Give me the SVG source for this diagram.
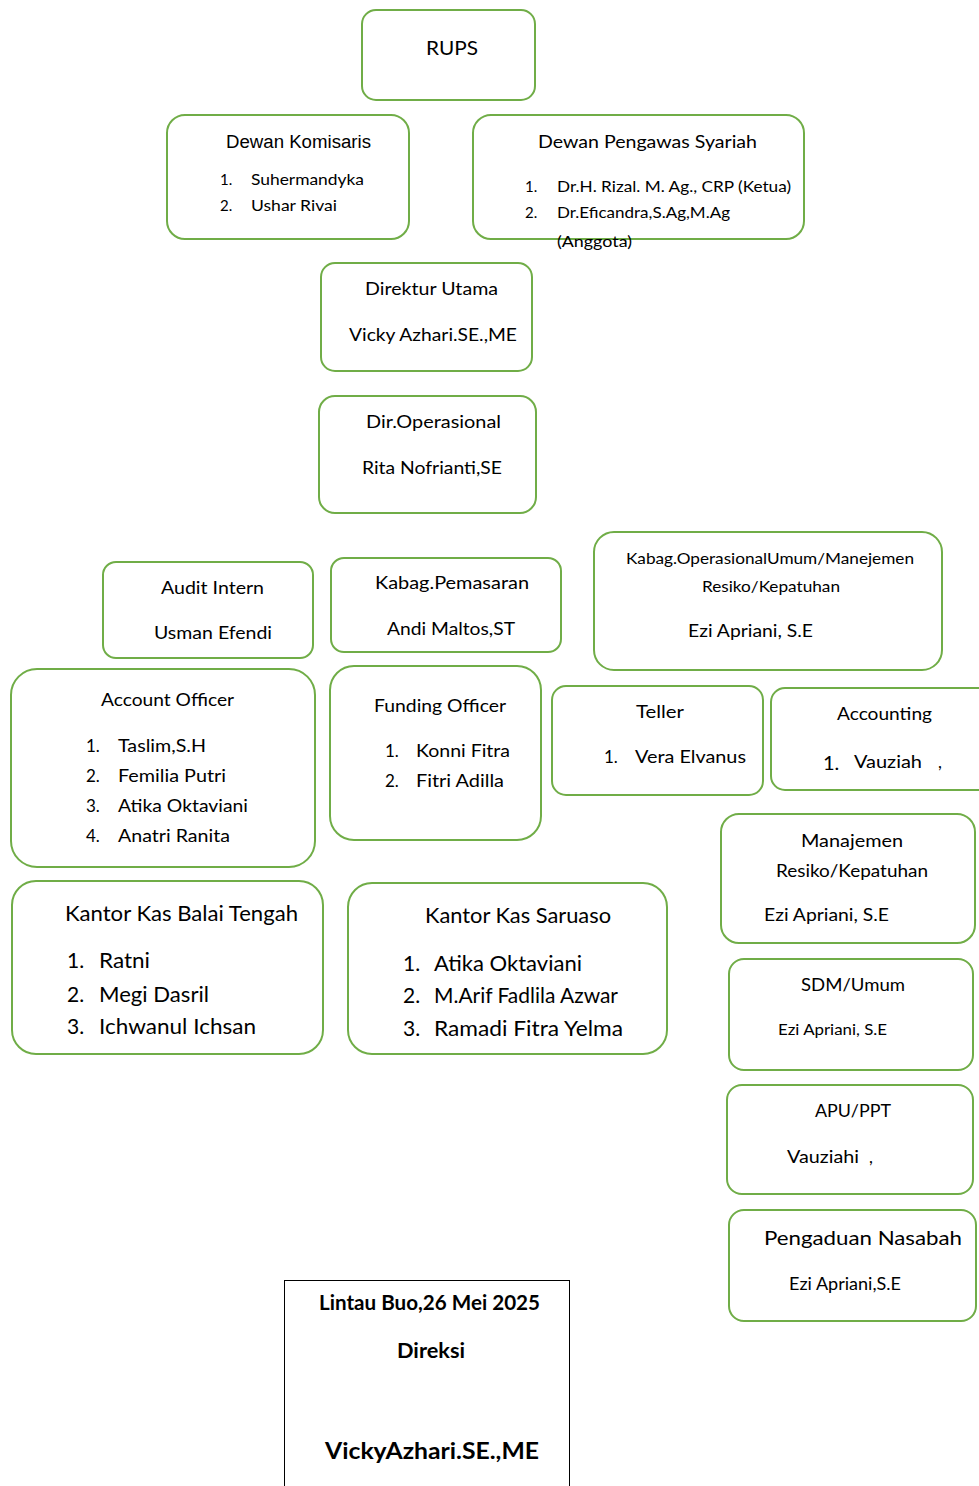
<svg xmlns="http://www.w3.org/2000/svg" width="979" height="1486" viewBox="0 0 979 1486">
<style>
.box{fill:#fff;stroke:#70ad47;stroke-width:2}
.sig{fill:#fff;stroke:#000;stroke-width:1}
text{font-family:Lato,"Open Sans",sans-serif;fill:#000}
.c{text-anchor:middle}
.a{font-family:"Liberation Sans",Arial,sans-serif}
.b{font-weight:bold}
</style>
<rect width="979" height="1486" fill="#fff"/>
<g id="connectors"></g>

<g id="rups">
<rect class="box" x="362" y="10" width="173" height="90" rx="14"/>
<text class="c" x="452" y="55" font-size="20" textLength="52" lengthAdjust="spacingAndGlyphs">RUPS</text>
</g>

<g id="dewan-komisaris">
<rect class="box" x="167" y="115" width="242" height="124" rx="18"/>
<text class="a" x="226" y="148" font-size="18" textLength="145" lengthAdjust="spacingAndGlyphs">Dewan Komisaris</text>
<text x="220" y="185" font-size="15">1.</text>
<text x="251" y="185" font-size="15" textLength="113" lengthAdjust="spacingAndGlyphs">Suhermandyka</text>
<text x="220" y="211" font-size="15">2.</text>
<text x="251" y="211" font-size="15" textLength="86" lengthAdjust="spacingAndGlyphs">Ushar Rivai</text>
</g>

<g id="dewan-pengawas-syariah">
<rect class="box" x="473" y="115" width="331" height="124" rx="18"/>
<text x="538" y="148" font-size="18" textLength="219" lengthAdjust="spacingAndGlyphs">Dewan Pengawas Syariah</text>
<text x="525" y="192" font-size="15">1.</text>
<text x="557" y="192" font-size="15" textLength="234" lengthAdjust="spacingAndGlyphs">Dr.H. Rizal. M. Ag., CRP (Ketua)</text>
<text x="525" y="218" font-size="15">2.</text>
<text x="557" y="218" font-size="15" textLength="173" lengthAdjust="spacingAndGlyphs">Dr.Eficandra,S.Ag,M.Ag</text>
<text x="557" y="247" font-size="15" textLength="75" lengthAdjust="spacingAndGlyphs">(Anggota)</text>
</g>

<g id="direktur-utama">
<rect class="box" x="321" y="263" width="211" height="108" rx="14"/>
<text x="365" y="295" font-size="17" textLength="133" lengthAdjust="spacingAndGlyphs">Direktur Utama</text>
<text x="349" y="341" font-size="17" textLength="168" lengthAdjust="spacingAndGlyphs">Vicky Azhari.SE.,ME</text>
</g>

<g id="dir-operasional">
<rect class="box" x="319" y="396" width="217" height="117" rx="16"/>
<text x="366" y="428" font-size="17" textLength="135" lengthAdjust="spacingAndGlyphs">Dir.Operasional</text>
<text x="362" y="474" font-size="17" textLength="140" lengthAdjust="spacingAndGlyphs">Rita Nofrianti,SE</text>
</g>

<g id="audit-intern">
<rect class="box" x="103" y="562" width="210" height="96" rx="13"/>
<text x="161" y="594" font-size="17" textLength="103" lengthAdjust="spacingAndGlyphs">Audit Intern</text>
<text x="154" y="639" font-size="17" textLength="118" lengthAdjust="spacingAndGlyphs">Usman Efendi</text>
</g>

<g id="kabag-pemasaran">
<rect class="box" x="331" y="558" width="230" height="94" rx="13"/>
<text x="375" y="589" font-size="17" textLength="154" lengthAdjust="spacingAndGlyphs">Kabag.Pemasaran</text>
<text x="387" y="635" font-size="17" textLength="128" lengthAdjust="spacingAndGlyphs">Andi Maltos,ST</text>
</g>

<g id="kabag-operasional">
<rect class="box" x="594" y="532" width="348" height="138" rx="20"/>
<text x="626" y="564" font-size="15" textLength="288" lengthAdjust="spacingAndGlyphs">Kabag.OperasionalUmum/Manejemen</text>
<text x="702" y="592" font-size="15" textLength="138" lengthAdjust="spacingAndGlyphs">Resiko/Kepatuhan</text>
<text x="688" y="637" font-size="17" textLength="125" lengthAdjust="spacingAndGlyphs">Ezi Apriani, S.E</text>
</g>

<g id="account-officer">
<rect class="box" x="11" y="669" width="304" height="198" rx="26"/>
<text x="101" y="706" font-size="17" textLength="133" lengthAdjust="spacingAndGlyphs">Account Officer</text>
<text x="86" y="752" font-size="17">1.</text>
<text x="118" y="752" font-size="17" textLength="88" lengthAdjust="spacingAndGlyphs">Taslim,S.H</text>
<text x="86" y="782" font-size="17">2.</text>
<text x="118" y="782" font-size="17" textLength="108" lengthAdjust="spacingAndGlyphs">Femilia Putri</text>
<text x="86" y="812" font-size="17">3.</text>
<text x="118" y="812" font-size="17" textLength="130" lengthAdjust="spacingAndGlyphs">Atika Oktaviani</text>
<text x="86" y="842" font-size="17">4.</text>
<text x="118" y="842" font-size="17" textLength="112" lengthAdjust="spacingAndGlyphs">Anatri Ranita</text>
</g>

<g id="funding-officer">
<rect class="box" x="330" y="666" width="211" height="174" rx="24"/>
<text x="374" y="712" font-size="17" textLength="132" lengthAdjust="spacingAndGlyphs">Funding Officer</text>
<text x="385" y="757" font-size="17">1.</text>
<text x="416" y="757" font-size="17" textLength="94" lengthAdjust="spacingAndGlyphs">Konni Fitra</text>
<text x="385" y="787" font-size="17">2.</text>
<text x="416" y="787" font-size="17" textLength="88" lengthAdjust="spacingAndGlyphs">Fitri Adilla</text>
</g>

<g id="teller">
<rect class="box" x="552" y="686" width="211" height="109" rx="14"/>
<text x="636" y="718" font-size="17" textLength="48" lengthAdjust="spacingAndGlyphs">Teller</text>
<text x="604" y="763" font-size="17">1.</text>
<text x="635" y="763" font-size="17" textLength="111" lengthAdjust="spacingAndGlyphs">Vera Elvanus</text>
</g>

<g id="accounting">
<rect class="box" x="771" y="688" width="222" height="102" rx="14"/>
<text x="837" y="720" font-size="17" textLength="95" lengthAdjust="spacingAndGlyphs">Accounting</text>
<text x="823" y="770" font-size="20">1.</text>
<text x="854" y="768" font-size="17" textLength="68" lengthAdjust="spacingAndGlyphs">Vauziah</text>
<text x="938" y="768" font-size="17">,</text>
</g>

<g id="manajemen-resiko">
<rect class="box" x="721" y="814" width="254" height="129" rx="18"/>
<text x="801" y="847" font-size="17" textLength="102" lengthAdjust="spacingAndGlyphs">Manajemen</text>
<text x="776" y="877" font-size="17" textLength="152" lengthAdjust="spacingAndGlyphs">Resiko/Kepatuhan</text>
<text x="764" y="921" font-size="17" textLength="125" lengthAdjust="spacingAndGlyphs">Ezi Apriani, S.E</text>
</g>

<g id="sdm-umum">
<rect class="box" x="729" y="959" width="244" height="111" rx="15"/>
<text x="801" y="991" font-size="17" textLength="104" lengthAdjust="spacingAndGlyphs">SDM/Umum</text>
<text x="778" y="1035" font-size="15" textLength="109" lengthAdjust="spacingAndGlyphs">Ezi Apriani, S.E</text>
</g>

<g id="apu-ppt">
<rect class="box" x="727" y="1085" width="246" height="109" rx="15"/>
<text x="815" y="1117" font-size="17" textLength="76" lengthAdjust="spacingAndGlyphs">APU/PPT</text>
<text x="787" y="1163" font-size="17" textLength="72" lengthAdjust="spacingAndGlyphs">Vauziahi</text>
<text x="869" y="1163" font-size="17">,</text>
</g>

<g id="pengaduan-nasabah">
<rect class="box" x="729" y="1210" width="247" height="111" rx="15"/>
<text x="764" y="1245" font-size="20" textLength="198" lengthAdjust="spacingAndGlyphs">Pengaduan Nasabah</text>
<text x="789" y="1290" font-size="17" textLength="112" lengthAdjust="spacingAndGlyphs">Ezi Apriani,S.E</text>
</g>

<g id="kantor-kas-balai-tengah">
<rect class="box" x="12" y="881" width="311" height="173" rx="24"/>
<text x="65" y="921" font-size="21" textLength="233" lengthAdjust="spacingAndGlyphs">Kantor Kas Balai Tengah</text>
<text x="67" y="968" font-size="21">1.</text>
<text x="99" y="968" font-size="21" textLength="51" lengthAdjust="spacingAndGlyphs">Ratni</text>
<text x="67" y="1002" font-size="21">2.</text>
<text x="99" y="1002" font-size="21" textLength="110" lengthAdjust="spacingAndGlyphs">Megi Dasril</text>
<text x="67" y="1034" font-size="21">3.</text>
<text x="99" y="1034" font-size="21" textLength="157" lengthAdjust="spacingAndGlyphs">Ichwanul Ichsan</text>
</g>

<g id="kantor-kas-saruaso">
<rect class="box" x="348" y="883" width="319" height="171" rx="24"/>
<text x="425" y="923" font-size="21" textLength="186" lengthAdjust="spacingAndGlyphs">Kantor Kas Saruaso</text>
<text x="403" y="971" font-size="21">1.</text>
<text x="434" y="971" font-size="21" textLength="148" lengthAdjust="spacingAndGlyphs">Atika Oktaviani</text>
<text x="403" y="1003" font-size="21">2.</text>
<text x="434" y="1003" font-size="21" textLength="184" lengthAdjust="spacingAndGlyphs">M.Arif Fadlila Azwar</text>
<text x="403" y="1036" font-size="21">3.</text>
<text x="434" y="1036" font-size="21" textLength="189" lengthAdjust="spacingAndGlyphs">Ramadi Fitra Yelma</text>
</g>

<g id="signature">
<rect class="sig" x="284.5" y="1280.5" width="285" height="220"/>
<text class="b" x="319" y="1310" font-size="20" textLength="221" lengthAdjust="spacingAndGlyphs">Lintau Buo,26 Mei 2025</text>
<text class="b" x="397" y="1358" font-size="20" textLength="68" lengthAdjust="spacingAndGlyphs">Direksi</text>
<text class="b" x="325" y="1459" font-size="23" textLength="214" lengthAdjust="spacingAndGlyphs">VickyAzhari.SE.,ME</text>
</g>
</svg>
